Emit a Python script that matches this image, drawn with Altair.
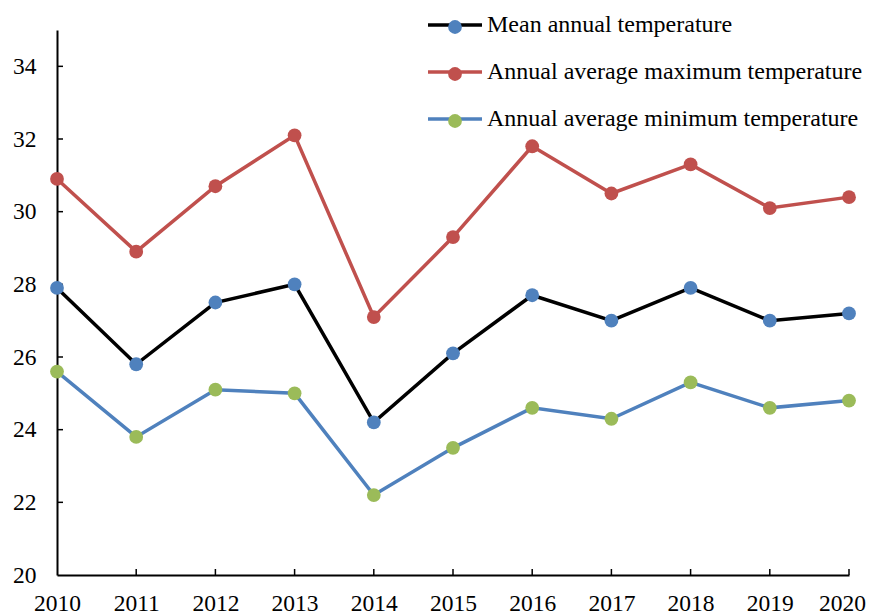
import altair as alt
import pandas as pd

years = list(range(2010, 2021))
mean_temp = [27.9, 25.8, 27.5, 28.0, 24.2, 26.1, 27.7, 27.0, 27.9, 27.0, 27.2]
max_temp = [30.9, 28.9, 30.7, 32.1, 27.1, 29.3, 31.8, 30.5, 31.3, 30.1, 30.4]
min_temp = [25.6, 23.8, 25.1, 25.0, 22.2, 23.5, 24.6, 24.3, 25.3, 24.6, 24.8]
series_names = [
    "Mean annual temperature",
    "Annual average maximum temperature",
    "Annual average minimum temperature",
]
line_colors = ["#000000", "#C0504D", "#4F81BD"]
marker_colors = ["#4F81BD", "#C0504D", "#9BBB59"]
y_ticks = [20, 22, 24, 26, 28, 30, 32, 34]

rows = []
for name, vals in zip(series_names, [mean_temp, max_temp, min_temp]):
    for yr, v in zip(years, vals):
        rows.append({"year": yr, "value": v, "series": name})
df = pd.DataFrame(rows)

FONT = "Liberation Serif"
W, H = 792, 545

x_scale = alt.Scale(domain=[2010, 2020], nice=False, zero=False)
y_scale = alt.Scale(domain=[20, 35], nice=False, zero=False)

x_axis = alt.Axis(values=years, format="d", tickSize=0, labelPadding=16, grid=False,
                  domainColor="black", domainWidth=2, labelFont=FONT, labelFontSize=23.5,
                  labelColor="black", labelFlush=False, labelOverlap=False, title=None,
                  labelOffset=alt.expr("datum.value == 2020 ? -7 : 0"))
y_axis = alt.Axis(values=y_ticks, format="d", tickSize=0, labelPadding=21, grid=False,
                  domainColor="black", domainWidth=2, labelFont=FONT, labelFontSize=23.5,
                  labelColor="black", labelFlush=False, labelOverlap=False, title=None)

X = alt.X("year:Q", scale=x_scale, axis=x_axis)
Y = alt.Y("value:Q", scale=y_scale, axis=y_axis)

lines = alt.Chart(df).mark_line(strokeWidth=3.5).encode(
    x=X, y=Y,
    stroke=alt.Stroke("series:N", scale=alt.Scale(domain=series_names, range=line_colors),
                      legend=alt.Legend(orient="none", legendX=386, legendY=-17, title=None,
                                        symbolType="M-2.7,0H2.7", symbolSize=400,
                                        symbolStrokeWidth=3.5, labelFont=FONT, labelFontSize=24,
                                        labelColor="black", labelOffset=20, labelLimit=0,
                                        rowPadding=23, padding=0, zindex=1)),
)

points = alt.Chart(df).mark_circle(size=190, opacity=1, strokeWidth=0).encode(
    x=X, y=Y,
    fill=alt.Fill("series:N", sort=series_names, scale=alt.Scale(range=marker_colors),
                  legend=alt.Legend(orient="none", legendX=386, legendY=-15, title=None,
                                    symbolType="circle", symbolSize=190, symbolStrokeWidth=0,
                                    symbolOpacity=1, labelFont=FONT, labelFontSize=24,
                                    labelExpr="''", rowPadding=23, padding=0, zindex=2)),
)

ytick_df = pd.DataFrame({"value": y_ticks[1:]})
yticks = alt.Chart(ytick_df).mark_rule(color="black", strokeWidth=1.5).encode(
    y=Y, x=alt.value(0), x2=alt.value(6)
)
xtick_df = pd.DataFrame({"year": years[1:]})
xticks = alt.Chart(xtick_df).mark_rule(color="black", strokeWidth=1.5).encode(
    x=X, y=alt.value(H - 6), y2=alt.value(H)
)

chart = alt.layer(yticks, xticks, lines, points).properties(
    width=W, height=H,
    autosize=alt.AutoSizeParams(type="none"),
    padding={"left": 49, "top": 22, "right": 17, "bottom": 40},
).configure_view(stroke=None)

chart.save("out.html", embed_options={"renderer": "svg", "actions": False})
